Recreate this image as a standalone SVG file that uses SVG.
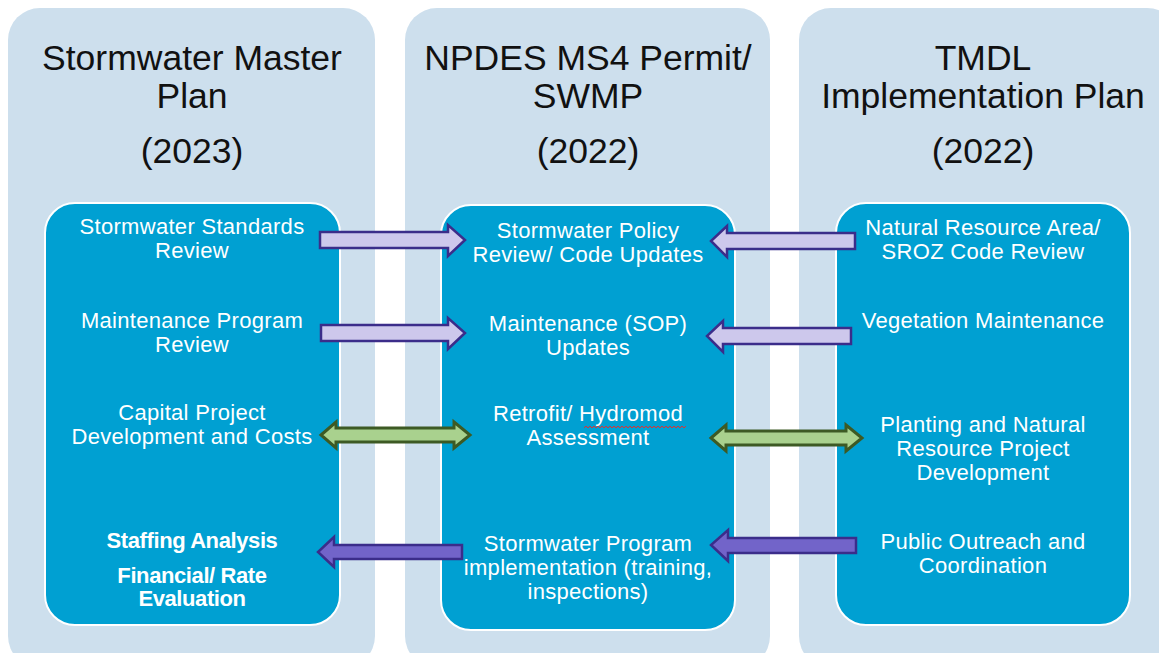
<svg xmlns="http://www.w3.org/2000/svg" width="1159" height="653" viewBox="0 0 1159 653">
<style>
.col{fill:#cddfed}
.box{fill:#00a0d2;stroke:#ffffff;stroke-width:2}
.hd{font-family:"Liberation Sans",Arial,sans-serif;font-size:35.5px;fill:#111;text-anchor:middle}
.tx{font-family:"Liberation Sans",Arial,sans-serif;font-size:22px;letter-spacing:0.3px;fill:#fff;text-anchor:middle}
.bd{font-family:"Liberation Sans",Arial,sans-serif;font-size:22px;fill:#fff;text-anchor:middle;font-weight:bold;letter-spacing:-0.4px}
.lp{fill:#cdc8ec;stroke:#3b2d8a;stroke-width:2.5}
.gr{fill:#a9d18e;stroke:#3d5a24;stroke-width:3}
.dp{fill:#7264c9;stroke:#3b2d8a;stroke-width:2.5}
</style>
<rect width="1159" height="653" fill="#ffffff"/>
<g id="col-left">
<rect class="col" x="8" y="8" width="367" height="660" rx="32"/>
<text class="hd" x="192" y="70">Stormwater Master</text>
<text class="hd" x="192" y="108">Plan</text>
<text class="hd" x="192" y="163">(2023)</text>
</g>
<g id="col-mid">
<rect class="col" x="405" y="8" width="365" height="660" rx="32"/>
<text class="hd" x="588" y="70">NPDES MS4 Permit/</text>
<text class="hd" x="588" y="108">SWMP</text>
<text class="hd" x="588" y="163">(2022)</text>
</g>
<g id="col-right">
<rect class="col" x="799" y="8" width="380" height="660" rx="32"/>
<text class="hd" x="983" y="70">TMDL</text>
<text class="hd" x="983" y="108">Implementation Plan</text>
<text class="hd" x="983" y="163">(2022)</text>
</g>
<g id="box-left">
<rect class="box" x="45" y="203" width="295" height="422" rx="30"/>
<text class="tx" x="192" y="234">Stormwater Standards</text>
<text class="tx" x="192" y="258">Review</text>
<text class="tx" x="192" y="328">Maintenance Program</text>
<text class="tx" x="192" y="352">Review</text>
<text class="tx" x="192" y="420">Capital Project</text>
<text class="tx" x="192" y="444">Development and Costs</text>
<text class="bd" x="192" y="548">Staffing Analysis</text>
<text class="bd" x="192" y="583">Financial/ Rate</text>
<text class="bd" x="192" y="606">Evaluation</text>
</g>
<g id="box-mid">
<rect class="box" x="441" y="205" width="294" height="425" rx="30"/>
<text class="tx" x="588" y="238">Stormwater Policy</text>
<text class="tx" x="588" y="262">Review/ Code Updates</text>
<text class="tx" x="588" y="331">Maintenance (SOP)</text>
<text class="tx" x="588" y="355">Updates</text>
<text class="tx" x="588" y="421">Retrofit/ Hydromod</text>
<path d="M584,428 l2,-2 l2,2 l2,-2 l2,2 l2,-2 l2,2 l2,-2 l2,2 l2,-2 l2,2 l2,-2 l2,2 l2,-2 l2,2 l2,-2 l2,2 l2,-2 l2,2 l2,-2 l2,2 l2,-2 l2,2 l2,-2 l2,2 l2,-2 l2,2 l2,-2 l2,2 l2,-2 l2,2 l2,-2 l2,2 l2,-2 l2,2 l2,-2 l2,2 l2,-2 l2,2 l2,-2 l2,2 l2,-2 l2,2 l2,-2 l2,2 l2,-2 l2,2 l2,-2 l2,2 l2,-2 l2,2 l2,-2" fill="none" stroke="#e03030" stroke-width="1"/>
<text class="tx" x="588" y="445">Assessment</text>
<text class="tx" x="588" y="551">Stormwater Program</text>
<text class="tx" x="588" y="575">implementation (training,</text>
<text class="tx" x="588" y="599">inspections)</text>
</g>
<g id="box-right">
<rect class="box" x="836" y="203" width="294" height="422" rx="30"/>
<text class="tx" x="983" y="235">Natural Resource Area/</text>
<text class="tx" x="983" y="259">SROZ Code Review</text>
<text class="tx" x="983" y="328">Vegetation Maintenance</text>
<text class="tx" x="983" y="432">Planting and Natural</text>
<text class="tx" x="983" y="456">Resource Project</text>
<text class="tx" x="983" y="480">Development</text>
<text class="tx" x="983" y="549">Public Outreach and</text>
<text class="tx" x="983" y="573">Coordination</text>
</g>
<g id="connectors">
<path class="lp" d="M320,232 H448 V225 L465,240 L448,256 V248 H320 Z"/>
<path class="lp" d="M321,325 H448 V318 L465,333 L448,349 V341 H321 Z"/>
<path class="lp" d="M855,233 H727 V226 L711,241 L727,257 V249 H855 Z"/>
<path class="lp" d="M851,328 H723 V321 L707,336 L723,352 V344 H851 Z"/>
<path class="gr" d="M321,435 L336,422 V428 H454 V422 L470,435 L454,448 V442 H336 V448 Z"/>
<path class="gr" d="M711,438 L726,425 V431 H846 V425 L862,438 L846,451 V445 H726 V451 Z"/>
<path class="dp" d="M462,545 H334 V537 L318,552 L334,567 V559 H462 Z"/>
<path class="dp" d="M856,538 H728 V530 L711,545 L728,561 V553 H856 Z"/>
</g>
</svg>
